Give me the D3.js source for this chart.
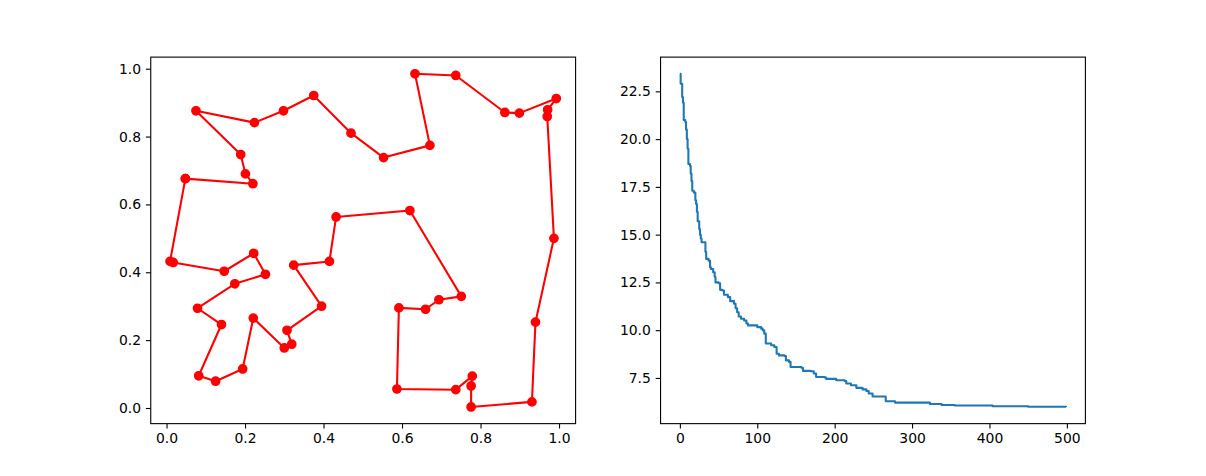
<!DOCTYPE html>
<html><head><meta charset="utf-8">
<script src="https://cdn.jsdelivr.net/npm/d3@7"></script>
<style>
html,body{margin:0;padding:0;background:#fff;}
svg{display:block;font-family:"DejaVu Sans",sans-serif;}
</style></head>
<body>
<svg id="chart" width="1206" height="476"></svg>
<script>
// Tour order of cities (closed path)
const cityX = [0.048,0.220,0.201,0.189,0.075,0.224,0.298,0.375,0.470,0.553,0.671,0.633,0.737,0.862,0.899,0.993,0.971,0.970,0.987,0.940,0.931,0.776,0.776,0.779,0.737,0.587,0.592,0.660,0.694,0.751,0.620,0.432,0.415,0.324,0.395,0.307,0.319,0.300,0.221,0.194,0.125,0.082,0.140,0.079,0.174,0.252,0.222,0.147,0.017,0.009];
const cityY = [0.676,0.661,0.690,0.747,0.876,0.841,0.876,0.921,0.810,0.738,0.774,0.985,0.980,0.871,0.869,0.912,0.879,0.859,0.500,0.253,0.018,0.003,0.065,0.094,0.054,0.056,0.295,0.291,0.319,0.329,0.582,0.563,0.432,0.421,0.300,0.229,0.188,0.177,0.265,0.115,0.079,0.095,0.246,0.294,0.366,0.394,0.456,0.403,0.429,0.432];

// Best distance per iteration: iterations where it improved, and the new value
const iterChange = [0,1,3,4,5,7,8,9,10,11,13,14,15,16,18,20,21,22,23,25,26,27,28,33,34,37,39,40,43,45,46,50,52,55,57,62,65,70,72,74,76,79,83,86,88,100,105,107,109,111,118,122,125,128,135,137,141,143,157,159,169,173,176,187,189,202,213,215,221,228,236,241,244,249,266,278,323,338,355,404,450,499];
const bestDist = [23.42,22.9,22.2,21.9,21.0,20.9,20.5,20.0,19.5,18.7,18.6,18.2,17.8,17.3,17.2,16.8,16.6,16.2,15.7,15.3,15.0,14.8,14.6,14.1,13.73,13.64,13.3,13.2,13.03,12.8,12.5,12.46,12.11,12.08,11.85,11.73,11.52,11.38,11.15,10.94,10.72,10.6,10.51,10.35,10.25,10.16,10.08,9.99,9.82,9.3,9.21,9.12,8.77,8.68,8.65,8.42,8.34,8.07,8.03,7.87,7.85,7.73,7.55,7.52,7.45,7.38,7.34,7.21,7.12,6.98,6.9,6.82,6.69,6.53,6.28,6.21,6.14,6.08,6.06,6.02,5.99,5.98];

const leftTicksX = [0.0,0.2,0.4,0.6,0.8,1.0];
const leftTicksY = [0.0,0.2,0.4,0.6,0.8,1.0];
const rightTicksX = [0,100,200,300,400,500];
const rightTicksY = [7.5,10.0,12.5,15.0,17.5,20.0,22.5];

(function(){
const svg = d3.select("#chart");
const W = 1206, H = 476;
const figL = 0.125*W, figR = 0.9*W, axTop = (1-0.88)*H, axBottom = (1-0.11)*H;
const axW = (figR-figL)/2.2;
const leftBox = {x0: figL, x1: figL+axW};
const rightBox = {x0: figR-axW, x1: figR};

function padDomain(ext){ const r = ext[1]-ext[0]; return [ext[0]-0.05*r, ext[1]+0.05*r]; }

function drawAxes(box, xs, ys, xt, yt, xfmt, yfmt){
  const g = svg.append("g");
  const xAxis = d3.axisBottom(xs).tickValues(xt).tickSize(4.86).tickPadding(4.86).tickFormat(xfmt);
  const yAxis = d3.axisLeft(ys).tickValues(yt).tickSize(4.86).tickPadding(4.86).tickFormat(yfmt);
  const gx = g.append("g").attr("transform",`translate(0,${axBottom})`).call(xAxis);
  const gy = g.append("g").attr("transform",`translate(${box.x0},0)`).call(yAxis);
  [gx,gy].forEach(a=>{
    a.select(".domain").remove();
    a.selectAll(".tick line").attr("stroke","#000").attr("stroke-width",1.1);
    a.selectAll(".tick text").attr("fill","#000").style("font-size","13.9px").style("font-family","DejaVu Sans");
  });
  g.append("rect").attr("x",box.x0).attr("y",axTop).attr("width",box.x1-box.x0).attr("height",axBottom-axTop)
    .attr("fill","none").attr("stroke","#000").attr("stroke-width",1.1);
  return g;
}

// Left: tour
const xL = d3.scaleLinear().domain(padDomain(d3.extent(cityX))).range([leftBox.x0, leftBox.x1]);
const yL = d3.scaleLinear().domain(padDomain(d3.extent(cityY))).range([axBottom, axTop]);
const tour = cityX.map((x,i)=>[x, cityY[i]]);
const closed = tour.concat([tour[0]]);
const gL = svg.append("g");
gL.append("path").datum(closed)
  .attr("d", d3.line().x(d=>xL(d[0])).y(d=>yL(d[1])))
  .attr("fill","none").attr("stroke","#ff0000").attr("stroke-width",2.08).attr("stroke-linejoin","round");
gL.selectAll("circle").data(closed).join("circle")
  .attr("cx",d=>xL(d[0])).attr("cy",d=>yL(d[1])).attr("r",4.17)
  .attr("fill","#ff0000").attr("stroke","#ff0000").attr("stroke-width",1.39);
drawAxes(leftBox, xL, yL, leftTicksX, leftTicksY, d3.format(".1f"), d3.format(".1f"));

// Right: convergence
const xR = d3.scaleLinear().domain(padDomain([0,499])).range([rightBox.x0, rightBox.x1]);
const yR = d3.scaleLinear().domain(padDomain(d3.extent(bestDist))).range([axBottom, axTop]);
const conv = iterChange.map((it,i)=>[it, bestDist[i]]);
svg.append("path").datum(conv)
  .attr("d", d3.line().curve(d3.curveStepAfter).x(d=>xR(d[0])).y(d=>yR(d[1])))
  .attr("fill","none").attr("stroke","#1f77b4").attr("stroke-width",2.08).attr("stroke-linejoin","round");
drawAxes(rightBox, xR, yR, rightTicksX, rightTicksY, d3.format("d"), d3.format(".1f"));
})();
</script>
</body></html>
